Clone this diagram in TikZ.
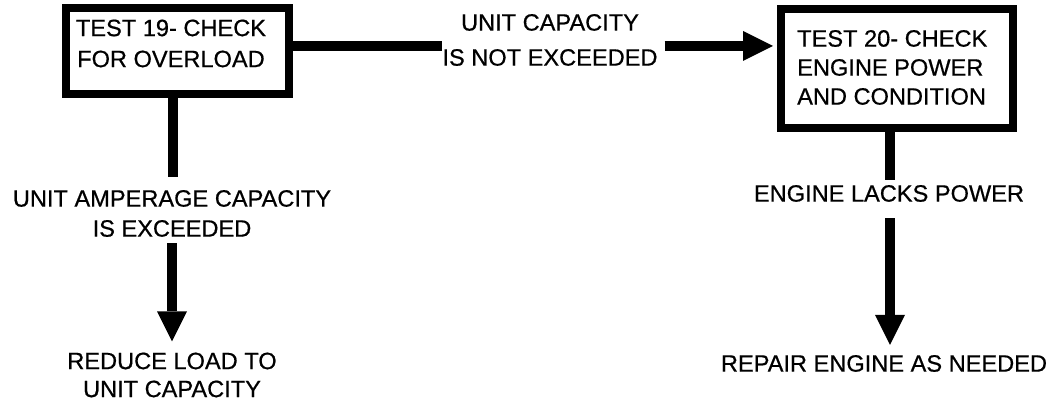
\documentclass[tikz,border=0pt]{standalone}
\usepackage{fontspec}
\setmainfont{Liberation Sans}[FakeBold=0.6]
\usetikzlibrary{arrows.meta}
\tikzset{
  box/.style={draw=black, line width=8pt, fill=white, inner sep=0pt},
  txt/.style={inner sep=0pt, font=\fontsize{23.6}{30}\selectfont, align=center},
  conn/.style={line width=9.5pt, draw=black},
  arr/.style={conn, -{Triangle[length=30pt,width=30pt,line width=0pt]}}
}
\begin{document}
\begin{tikzpicture}[x=1pt,y=-1pt]
\useasboundingbox (0,0) rectangle (1061,403);
% boxes
\node[box, minimum width=223pt, minimum height=86pt] (b1) at (177.5,51) {};
\node[box, minimum width=232pt, minimum height=119pt] (b2) at (897,68.5) {};
% texts
\node[txt, font=\fontsize{23.6}{31}\selectfont] (t1) at (171,43.5) {TEST 19- CHECK\\FOR OVERLOAD};
\node[txt, align=left, anchor=west, font=\fontsize{23.6}{29}\selectfont] (t2) at (797,67.5) {TEST 20- CHECK\\ENGINE POWER\\AND CONDITION};
\node[txt] (l1) at (172,213.5) {UNIT AMPERAGE CAPACITY\\IS EXCEEDED};
\node[txt, font=\fontsize{23.6}{35}\selectfont] (l2) at (550,40) {UNIT CAPACITY\\IS NOT EXCEEDED};
\node[txt, font=\fontsize{23.6}{28}\selectfont] (l3) at (172,375) {REDUCE LOAD TO\\UNIT CAPACITY};
\node[txt] (l4) at (889,193.5) {ENGINE LACKS POWER};
\node[txt] (l5) at (884,363.5) {REPAIR ENGINE AS NEEDED};
\coordinate (h) at (0,46);
% connectors
\draw[conn, shorten >=13pt] (b1.south -| 173,0) -- (l1.north -| 173,0);
\draw[arr, shorten <=6pt, shorten >=11pt] (l1.south -| 172,0) -- (l3.north -| 172,0);
\draw[conn] (b1.east |- h) -- (l2.west |- h);
\draw[arr, shorten <=7pt, shorten >=4pt] (l2.east |- h) -- (b2.west |- h);
\draw[conn, shorten >=5pt] (b2.south -| 890,0) -- (l4.north -| 890,0);
\draw[arr, shorten <=16pt, shorten >=10pt] (l4.south -| 890,0) -- (l5.north -| 890,0);
\end{tikzpicture}
\end{document}
